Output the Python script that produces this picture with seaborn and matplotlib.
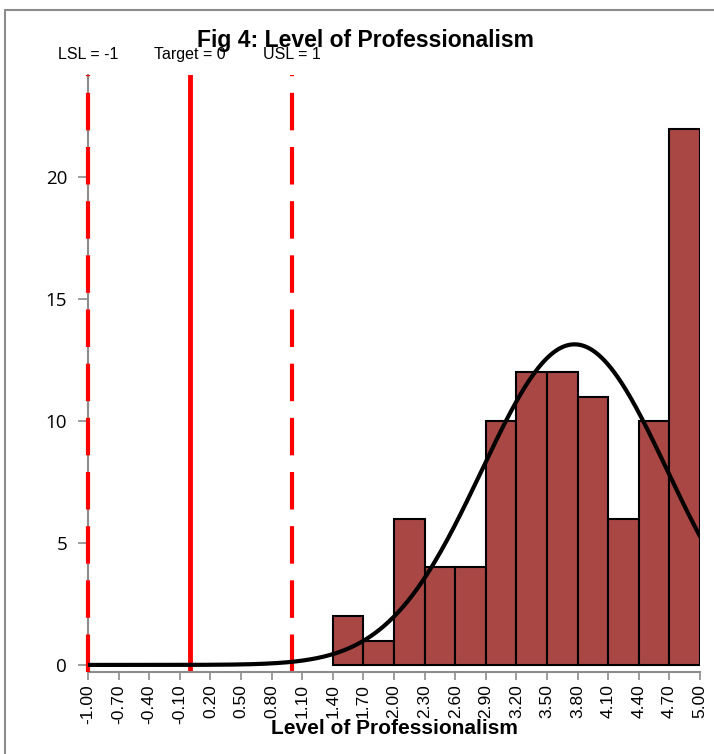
import numpy as np
import pandas as pd
import matplotlib
matplotlib.use("Agg")
import matplotlib.pyplot as plt
import seaborn as sns
from matplotlib.patches import Rectangle

# ---- data ----
bin_left = [1.4, 1.7, 2.0, 2.3, 2.6, 2.9, 3.2, 3.5, 3.8, 4.1, 4.4, 4.7]
counts = [2, 1, 6, 4, 4, 10, 12, 12, 11, 6, 10, 22]
bin_width = 0.3
fit_mean = 3.77
fit_sd = 0.91
spec_labels = ["LSL = -1", "Target = 0", "USL = 1"]
spec_values = [-1, 0, 1]
x_ticks = [round(-1.0 + 0.3 * i, 2) for i in range(21)]
y_ticks = [0, 5, 10, 15, 20]

sns.set_theme(style="white")
plt.rcParams['font.family'] = ['Liberation Sans', 'DejaVu Sans']
plt.rcParams['text.color'] = 'black'
plt.rcParams['xtick.color'] = 'black'
plt.rcParams['ytick.color'] = 'black'
plt.rcParams['axes.labelcolor'] = 'black'

fig = plt.figure(figsize=(7.14, 7.54), dpi=100)
ax = fig.add_axes([88/714, 1-672/754, 612/714, 597/754])

# histogram
centers = [b + bin_width/2 for b in bin_left]
df = pd.DataFrame({"x": centers, "w": counts})
edges = bin_left + [bin_left[-1] + bin_width]
sns.histplot(data=df, x="x", weights="w", bins=edges, ax=ax,
             color="#A94745", alpha=1, edgecolor="black", linewidth=1.5, zorder=2)

# spec lines
ax.axvline(-1, color="red", lw=3, ls=(0, (9, 4)), zorder=4, clip_on=False)
ax.axvline(0, color="red", lw=3.5, zorder=1)
ax.axvline(1, color="red", lw=3, ls=(0, (9, 4)), zorder=1)

# fitted normal curve
n = sum(counts)
xs = np.linspace(-1, 5, 400)
ys = n * bin_width * np.exp(-0.5 * ((xs - fit_mean) / fit_sd) ** 2) / (fit_sd * np.sqrt(2 * np.pi))
sns.lineplot(x=xs, y=ys, ax=ax, color="black", lw=3, zorder=5)

ax.set_xlim(-1, 5)
ax.set_ylim(-0.29, 24.2)
ax.set_xticks(x_ticks)
ax.set_xticklabels([f"{t:.2f}" for t in x_ticks], rotation=90, fontsize=12.5)
ax.set_yticks(y_ticks)
ax.set_yticklabels([str(t) for t in y_ticks], fontsize=13.5, family=['Open Sans', 'DejaVu Sans'])
ax.tick_params(axis='x', direction='out', length=6, color='#8c8c8c', width=1.2, pad=3, bottom=True,
               labelcolor='black')
ax.tick_params(axis='y', direction='out', length=7, color='#8c8c8c', width=1.2, pad=8, left=True,
               labelcolor='black')
for s in ['top', 'right']:
    ax.spines[s].set_visible(False)
for s in ['left', 'bottom']:
    ax.spines[s].set_color('#8c8c8c')
    ax.spines[s].set_linewidth(1.5)
ax.set_ylabel("")
ax.set_xlabel("Level of Professionalism", fontsize=15, fontweight='bold', labelpad=-4, color='black')
ax.grid(False)

# title & spec labels
fig.text(365/714, 1-40/754, "Fig 4: Level of Professionalism", ha='center', va='center',
         fontsize=16.5, fontweight='bold', color='black')
for lab, v in zip(spec_labels, spec_values):
    ax.text(v, 1 + 13/597, lab, transform=ax.get_xaxis_transform(), ha='center', va='bottom',
            fontsize=11.5, color='black')

# outer chart border
fig.patches.append(Rectangle((5/714, -0.1), 1.2, 1 - 10/754 + 0.1, transform=fig.transFigure,
                             fill=False, edgecolor='#8c8c8c', linewidth=1.5))

fig.savefig("out.png", dpi=100)
